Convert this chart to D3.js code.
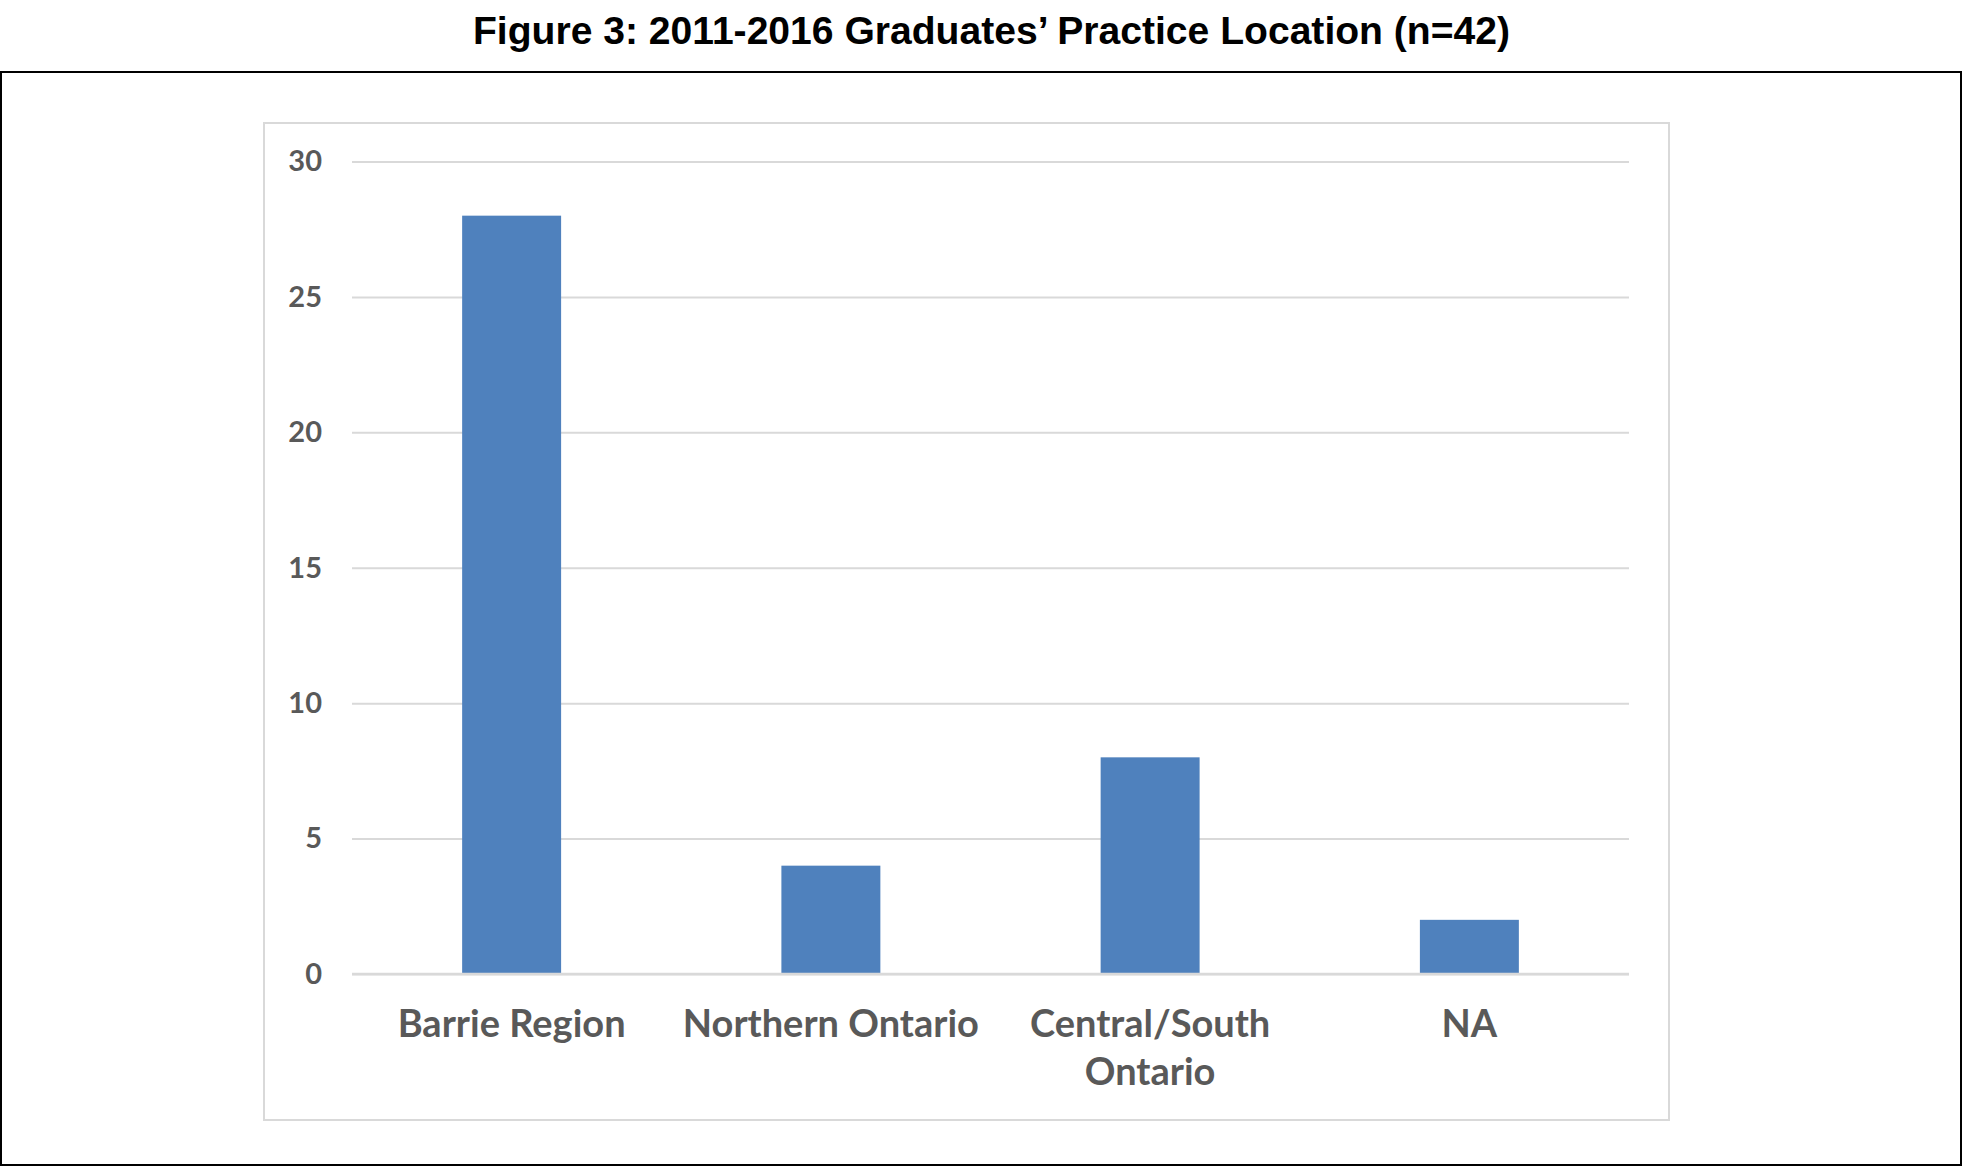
<!DOCTYPE html>
<html>
<head>
<meta charset="utf-8">
<script src="https://cdn.jsdelivr.net/npm/d3@7"></script>
<style>
  html, body { margin: 0; padding: 0; background: #fff; }
  svg { display: block; }
</style>
</head>
<body>
<svg id="chart" width="1964" height="1167"></svg>
<script>
const title = "Figure 3: 2011-2016 Graduates’ Practice Location (n=42)";
const categories = ["Barrie Region", "Northern Ontario", "Central/South Ontario", "NA"];
const values = [28, 4, 8, 2];
const yTicks = [0, 5, 10, 15, 20, 25, 30];

const svg = d3.select("#chart");

// outer frame
svg.append("rect")
  .attr("x", 1).attr("y", 72).attr("width", 1960).attr("height", 1093)
  .attr("fill", "none").attr("stroke", "#000").attr("stroke-width", 2);

// title
svg.append("text")
  .attr("x", 991.5).attr("y", 44)
  .attr("text-anchor", "middle")
  .attr("font-family", "'Liberation Sans', Arial, sans-serif")
  .attr("font-weight", "bold")
  .attr("font-size", 38)
  .attr("textLength", 1037)
  .attr("lengthAdjust", "spacingAndGlyphs")
  .attr("fill", "#000")
  .text(title);

// chart area box
svg.append("rect")
  .attr("x", 264).attr("y", 123).attr("width", 1405).attr("height", 997)
  .attr("fill", "#fff").attr("stroke", "#D9D9D9").attr("stroke-width", 2);

const plot = { left: 352, right: 1629, top: 161.5, bottom: 974 };

const x = d3.scaleBand()
  .domain(categories)
  .range([plot.left, plot.right])
  .paddingInner(0.69)
  .paddingOuter(0.345);

const y = d3.scaleLinear().domain([0, 30]).range([plot.bottom, plot.top]);

// y axis with gridlines
const yAxis = svg.append("g")
  .attr("transform", `translate(${plot.left},0)`)
  .call(d3.axisLeft(y).tickValues(yTicks).tickSize(-(plot.right - plot.left)).tickPadding(30));
yAxis.select(".domain").remove();
yAxis.selectAll(".tick line").attr("stroke", "#D9D9D9").attr("stroke-width", 2);
yAxis.selectAll(".tick text")
  .attr("font-family", "Lato, 'Open Sans', sans-serif")
  .attr("font-weight", "bold")
  .attr("font-size", 29)
  .attr("fill", "#595959");

// bars
svg.append("g").selectAll("rect")
  .data(values)
  .join("rect")
  .attr("x", (d, i) => x(categories[i]))
  .attr("y", d => y(d))
  .attr("width", x.bandwidth())
  .attr("height", d => y(0) - y(d))
  .attr("fill", "#4F81BD");

// baseline
svg.append("line")
  .attr("x1", plot.left).attr("x2", plot.right)
  .attr("y1", y(0)).attr("y2", y(0))
  .attr("stroke", "#D9D9D9").attr("stroke-width", 2.5);

// x axis labels with wrapping
const xAxis = svg.append("g")
  .attr("transform", `translate(0,${plot.bottom})`)
  .call(d3.axisBottom(x).tickSize(0).tickPadding(0));
xAxis.select(".domain").remove();
const step = x.step();
const y0 = 63;
xAxis.selectAll(".tick text")
  .attr("font-family", "Lato, 'Open Sans', sans-serif")
  .attr("font-weight", "bold")
  .attr("font-size", 38)
  .attr("fill", "#595959")
  .attr("dy", null)
  .attr("y", y0)
  .each(function(d) {
    const t = d3.select(this);
    const words = d.split(" ");
    t.text(null);
    let line = [];
    let lineNo = 0;
    let tspan = t.append("tspan").attr("x", 0).attr("y", y0);
    for (const w of words) {
      line.push(w);
      tspan.text(line.join(" "));
      if (tspan.node().getComputedTextLength() > step - 10 && line.length > 1) {
        line.pop();
        tspan.text(line.join(" "));
        line = [w];
        lineNo++;
        tspan = t.append("tspan").attr("x", 0).attr("y", y0 + lineNo * 48).text(w);
      }
    }
  });
</script>
</body>
</html>
